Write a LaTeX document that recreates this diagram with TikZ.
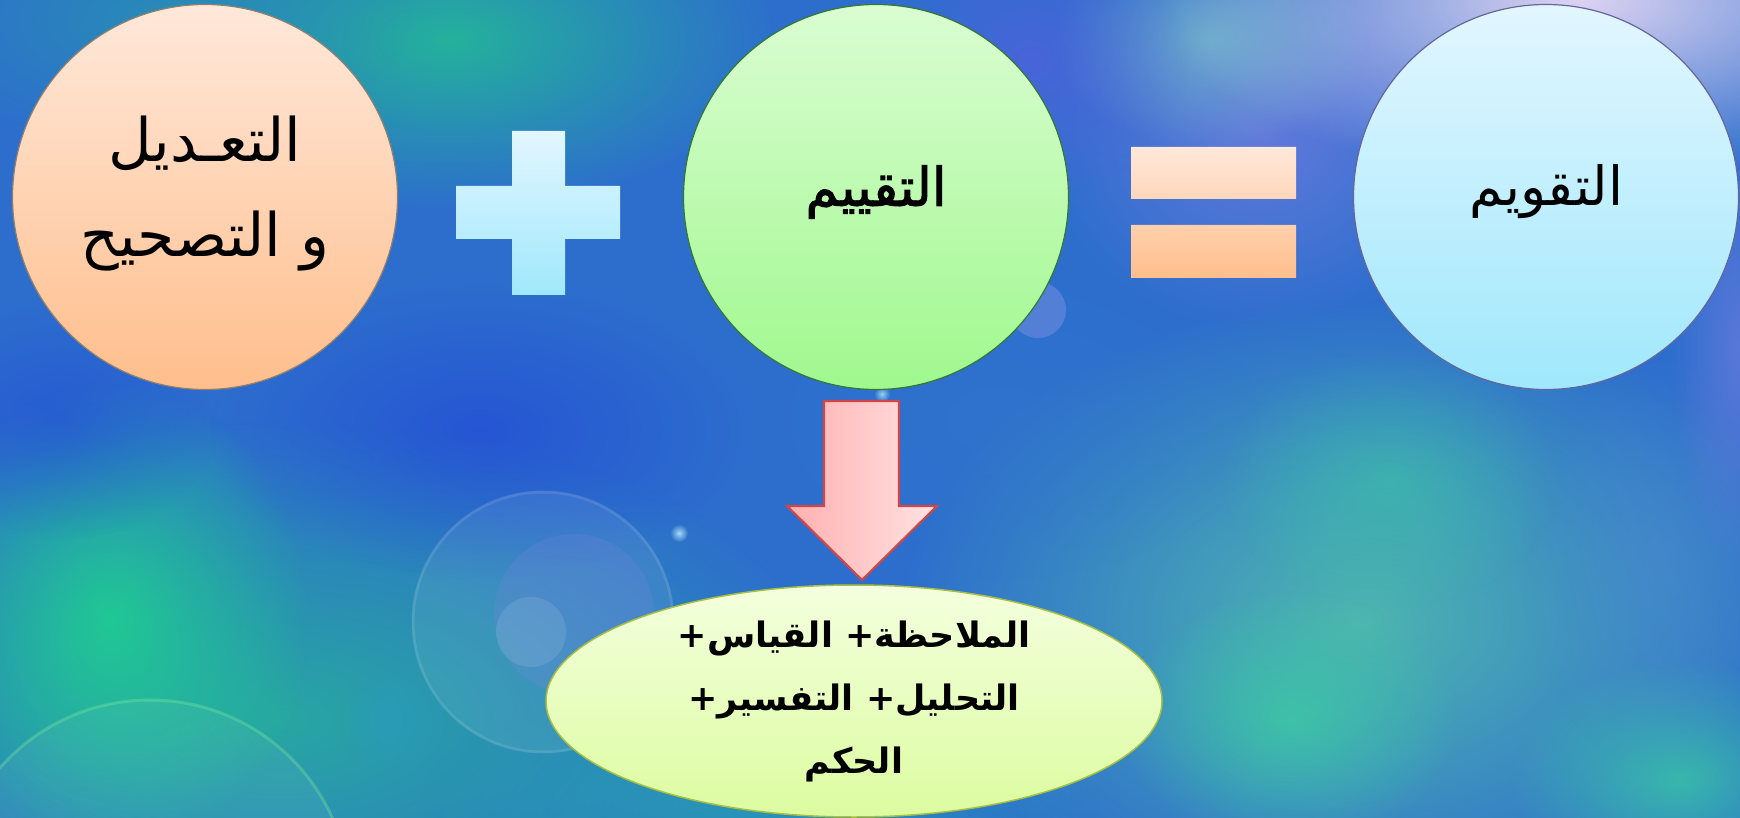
\documentclass[tikz,border=0pt]{standalone}
\usepackage{fontspec}
\newfontfamily\arabicfont[Script=Arabic]{DejaVu Sans}
\newfontfamily\arabicheavy[Script=Arabic, FakeBold=2]{DejaVu Sans}
\TeXXeTstate=1
\usetikzlibrary{fadings,shapes.geometric}
\tikzfading[name=blob, inner color=transparent!0, outer color=transparent!100]
\definecolor{bgbase}{RGB}{45,110,205}
\definecolor{cteal}{RGB}{40,170,160}
\definecolor{cgreen}{RGB}{30,215,140}
\definecolor{cgreentop}{RGB}{35,185,150}
\definecolor{ctealtop}{RGB}{40,150,175}
\definecolor{cdeepblue}{RGB}{35,75,215}
\definecolor{crteal}{RGB}{80,185,175}
\definecolor{crgreen}{RGB}{60,210,160}
\definecolor{crblue}{RGB}{80,140,210}
\definecolor{cpurple}{RGB}{135,130,230}
\definecolor{clight}{RGB}{240,222,246}
\definecolor{clteal}{RGB}{130,205,200}
\definecolor{cviolet}{RGB}{90,95,225}
\definecolor{cmidblue}{RGB}{50,120,205}
\definecolor{cbteal}{RGB}{40,165,175}
\definecolor{peachT}{RGB}{255,232,218}
\definecolor{peachB}{RGB}{255,190,140}
\definecolor{greenT}{RGB}{218,253,210}
\definecolor{greenB}{RGB}{160,248,142}
\definecolor{blueT}{RGB}{226,246,255}
\definecolor{blueB}{RGB}{160,232,252}
\definecolor{pinkL}{RGB}{255,176,176}
\definecolor{pinkR}{RGB}{255,226,226}
\definecolor{arrowred}{RGB}{208,70,70}
\definecolor{ellT}{RGB}{244,255,222}
\definecolor{ellB}{RGB}{220,252,160}
\definecolor{ellD}{RGB}{168,192,64}
\tikzset{
  bigcircle/.style={circle, minimum size=385pt, inner sep=0pt, line width=1.2pt},
  blabel/.style={font=\arabicfont\fontsize{54}{95}\selectfont, align=center, text=black},
  blabelbold/.style={font=\arabicheavy\fontsize{53}{95}\selectfont, align=center, text=black},
  blabelbig/.style={font=\arabicfont\fontsize{60}{95}\selectfont, align=center, text=black},
  ellabel/.style={font=\arabicfont\bfseries\fontsize{35}{63}\selectfont, align=center, text=black}
}
\begin{document}
\begin{tikzpicture}[x=1pt,y=-1pt]
\useasboundingbox (0,0) rectangle (1740,818);
\begin{scope}
\clip (0,0) rectangle (1740,818);
\fill[bgbase] (0,0) rectangle (1740,818);
\fill[cteal, opacity=0.95, path fading=blob] (280,720) ellipse (580 and 300);
\fill[cgreen, opacity=0.8, path fading=blob] (110,620) ellipse (200 and 240);
\fill[cgreentop, opacity=0.9, path fading=blob] (450,40) ellipse (330 and 170);
\fill[ctealtop, opacity=0.7, path fading=blob] (150,20) ellipse (260 and 130);
\fill[cdeepblue, opacity=0.7, path fading=blob] (480,430) ellipse (270 and 150);
\fill[cdeepblue, opacity=0.55, path fading=blob] (60,420) ellipse (160 and 120);
\fill[crteal, opacity=0.95, path fading=blob] (1360,620) ellipse (460 and 320);
\fill[crgreen, opacity=0.7, path fading=blob] (1290,720) ellipse (170 and 130);
\fill[crgreen, opacity=0.7, path fading=blob] (1680,780) ellipse (170 and 120);
\fill[crgreen, opacity=0.45, path fading=blob] (1390,480) ellipse (170 and 130);
\fill[crblue, opacity=0.45, path fading=blob] (1660,560) ellipse (140 and 210);
\fill[cpurple, opacity=0.6, path fading=blob] (1260,130) ellipse (220 and 200);
\fill[clight, opacity=0.9, path fading=blob] (1580,0) ellipse (420 and 180);
\fill[clteal, opacity=0.6, path fading=blob] (1210,40) ellipse (160 and 110);
\fill[cviolet, opacity=0.6, path fading=blob] (1030,60) ellipse (160 and 140);
\fill[cmidblue, opacity=0.5, path fading=blob] (1000,420) ellipse (260 and 160);
\fill[cbteal, opacity=0.7, path fading=blob] (760,800) ellipse (340 and 120);
\fill[cpurple, opacity=0.5, path fading=blob] (1740,350) ellipse (70 and 220);
% bokeh
\fill[white, opacity=0.08] (543,622) circle (131);
\draw[white, opacity=0.10, line width=3pt] (543,622) circle (130);
\fill[cpurple, opacity=0.2] (574,614) circle (80);
\fill[white, opacity=0.10] (531,632) circle (35);
\fill[cyan!60!teal, opacity=0.45, path fading=blob] (393,720) circle (56);
\draw[green!40!white, opacity=0.25, line width=3pt] (150,900) circle (200);
\fill[white, opacity=0.05] (150,900) circle (200);
\fill[white!70!cyan, opacity=0.9, path fading=blob] (679,533) circle (9);
\fill[white!70!cyan, opacity=0.8, path fading=blob] (882,394) circle (8);
\fill[cpurple!70!white, opacity=0.3] (1038,310) circle (28);
\end{scope}
% plus sign
\shade[top color=blueT, bottom color=blueB]
  (512,131) -- (565,131) -- (565,186) -- (620,186) -- (620,239) -- (565,239)
  -- (565,295) -- (512,295) -- (512,239) -- (456,239) -- (456,186) -- (512,186) -- cycle;
% equals sign
\shade[top color=peachT, bottom color=peachB]
  (1131,147) rectangle (1296,199) (1131,225) rectangle (1296,278);
% circles
\node[bigcircle, draw=gray!70!brown, top color=peachT, bottom color=peachB] (corr) at (205,197) {};
\node[bigcircle, draw=black!55!green!60!gray, top color=greenT, bottom color=greenB] (asses) at (876,197) {};
\node[bigcircle, draw=gray!80!blue, top color=blueT, bottom color=blueB] (evalc) at (1546,197) {};
\node[blabelbig] (corrt) at ([yshift=3pt]corr.center) {\beginR التعـديل\endR\\\beginR و التصحيح\endR};
\node[blabelbold] (assest) at ([yshift=5pt]asses.center) {\beginR التقييم\endR};
\node[blabel] (evalt) at ([yshift=5pt]evalc.center) {\beginR التقويم\endR};
% ellipse
\node[ellipse, minimum width=616pt, minimum height=232pt, inner sep=0pt, draw=ellD, line width=1.5pt,
  top color=ellT, bottom color=ellB] (steps) at (854,701) {};
\node[ellabel] (stepst) at (steps.center) {\beginR الملاحظة+ القياس+\endR\\\beginR التحليل+ التفسير+\endR\\\beginR الحكم\endR};
% block arrow
\shade[left color=pinkL, right color=pinkR, draw=arrowred, line width=2.2pt, line join=miter]
  (824,401) -- (899,401) -- (899,506) -- (937,506) -- (862,580) -- (787,506) -- (824,506) -- cycle;
\end{tikzpicture}
\end{document}
